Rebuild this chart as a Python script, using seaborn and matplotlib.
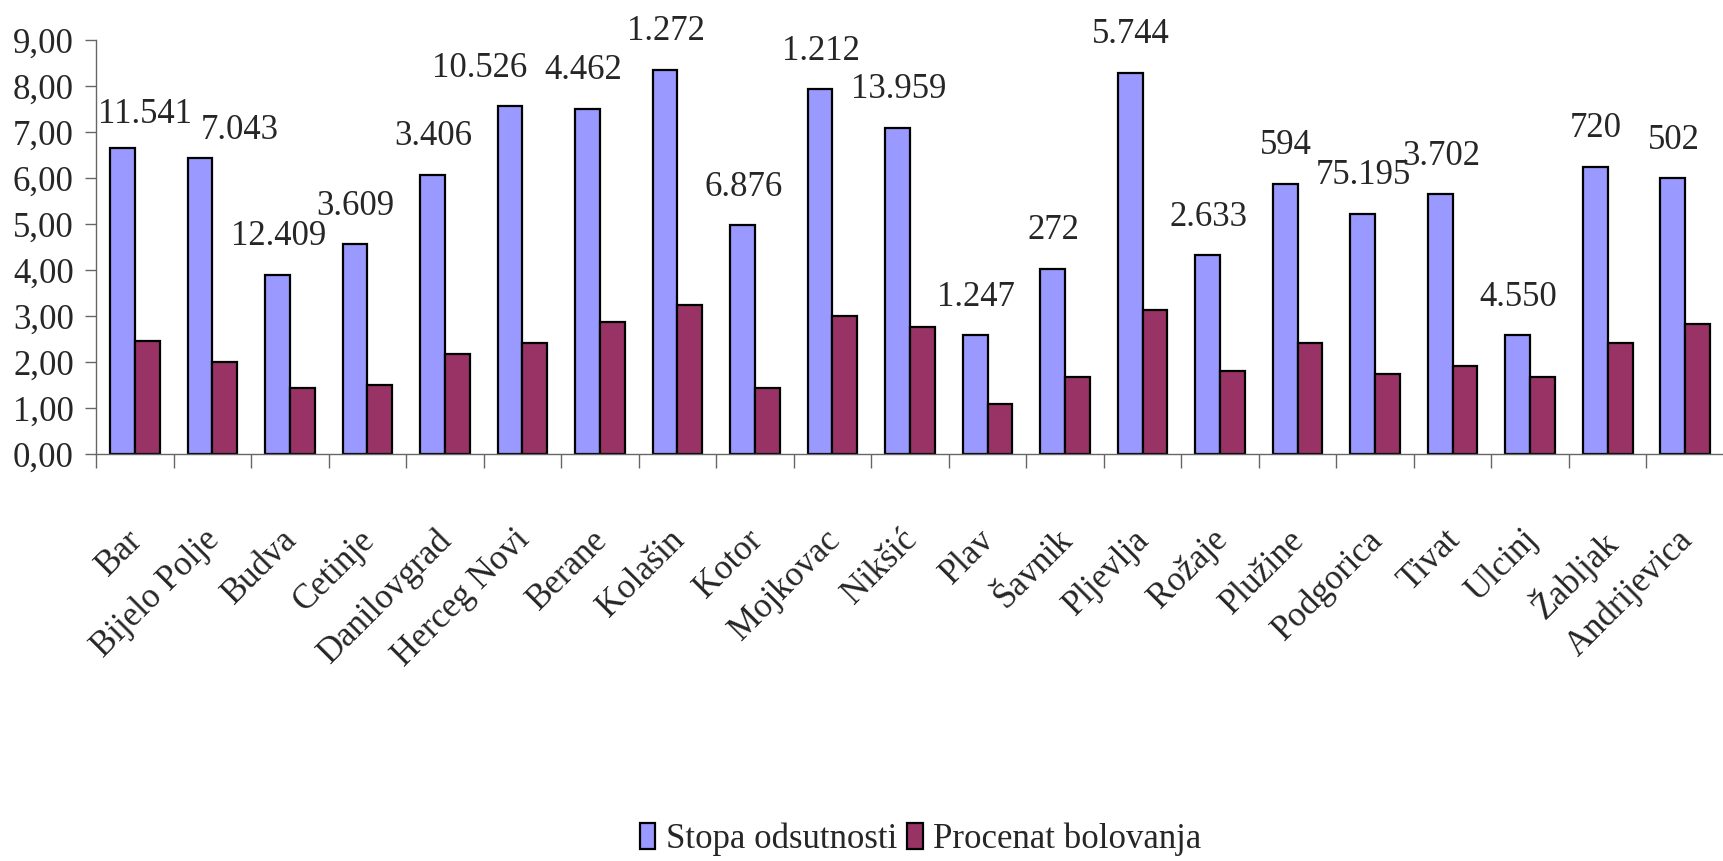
import numpy as np
import pandas as pd
import matplotlib
matplotlib.use('Agg')
import matplotlib.pyplot as plt
import seaborn as sns
from matplotlib.patches import Patch

# data
gradovi = ['Bar', 'Bijelo Polje', 'Budva', 'Cetinje', 'Danilovgrad', 'Herceg Novi',
           'Berane', 'Kolašin', 'Kotor', 'Mojkovac', 'Nikšić', 'Plav', 'Šavnik',
           'Pljevlja', 'Rožaje', 'Plužine', 'Podgorica', 'Tivat', 'Ulcinj',
           'Žabljak', 'Andrijevica']
stopa_odsutnosti = [6.66, 6.43, 3.90, 4.56, 6.07, 7.56, 7.51, 8.35, 4.98, 7.93, 7.09,
                    2.58, 4.03, 8.29, 4.32, 5.88, 5.22, 5.65, 2.58, 6.25, 5.99]
procenat_bolovanja = [2.46, 1.99, 1.44, 1.50, 2.17, 2.41, 2.88, 3.25, 1.44, 3.01, 2.76,
                      1.08, 1.68, 3.12, 1.80, 2.41, 1.74, 1.91, 1.68, 2.41, 2.83]
oznake = ['11.541', '7.043', '12.409', '3.609', '3.406', '10.526', '4.462', '1.272',
          '6.876', '1.212', '13.959', '1.247', '272', '5.744', '2.633', '594',
          '75.195', '3.702', '4.550', '720', '502']
serije = ['Stopa odsutnosti', 'Procenat bolovanja']
boje = ['#9999FF', '#993366']

df = pd.DataFrame({
    'grad': gradovi * 2,
    'vrijednost': stopa_odsutnosti + procenat_bolovanja,
    'serija': [serije[0]] * len(gradovi) + [serije[1]] * len(gradovi),
})

sns.set_style('ticks')
plt.rcParams['font.family'] = ['Liberation Serif', 'DejaVu Serif']
fs = 25

fig = plt.figure(figsize=(17.24, 8.61), dpi=100)
ax = fig.add_axes([0.0557, 0.4727, 1 - 0.0557, 0.4808])

sns.barplot(data=df, x='grad', y='vrijednost', hue='serija', palette=boje,
            width=0.64, saturation=1, edgecolor='black', linewidth=1.6,
            legend=False, ax=ax)

# value labels above the blue bars (a few nudged like in the original)
pomak_x = {0: 0.28, 1: 0.5, 5: -0.4, 6: -0.06}
pomak_y = {0: -0.1, 1: -0.22}
for i, (v, t) in enumerate(zip(stopa_odsutnosti, oznake)):
    ax.text(i - 0.15 + pomak_x.get(i, 0), v + 0.64 + pomak_y.get(i, 0), t,
            ha='center', va='baseline', fontsize=fs, clip_on=False)

ax.set_ylim(0, 9)
ax.set_xlim(-0.5, 20.5 - 18 / 78.4)
ax.set_yticks(np.arange(0, 10, 1))
ax.set_yticklabels(['{:.2f}'.format(v).replace('.', ',') for v in np.arange(0, 10, 1)],
                   fontsize=fs)
ax.set_xlabel('')
ax.set_ylabel('')

# category boundaries as ticks, labels near centers
ax.set_xticks(np.arange(len(gradovi)) - 0.12)
ax.set_xticks(np.arange(-0.5, len(gradovi)), minor=True)
ax.set_xticklabels(gradovi, rotation=45, ha='right', va='top',
                   rotation_mode='anchor', fontsize=fs)
ax.tick_params(axis='x', which='major', length=0, pad=50)
ax.tick_params(axis='x', which='minor', length=10, width=1, color='#666666')
ax.tick_params(axis='y', length=8, width=1, color='#666666', pad=8)

for s in ['top', 'right']:
    ax.spines[s].set_visible(False)
for s in ['left', 'bottom']:
    ax.spines[s].set_color('#666666')
    ax.spines[s].set_linewidth(1)

handles = [Patch(facecolor=c, edgecolor='black', linewidth=1.6) for c in boje]
fig.legend(handles, serije, loc='center', bbox_to_anchor=(0.534, 0.025),
           ncol=2, frameon=False, fontsize=fs, handlelength=0.45,
           handleheight=0.8, handletextpad=0.3, columnspacing=0.3)

fig.savefig('out.png', dpi=100)
